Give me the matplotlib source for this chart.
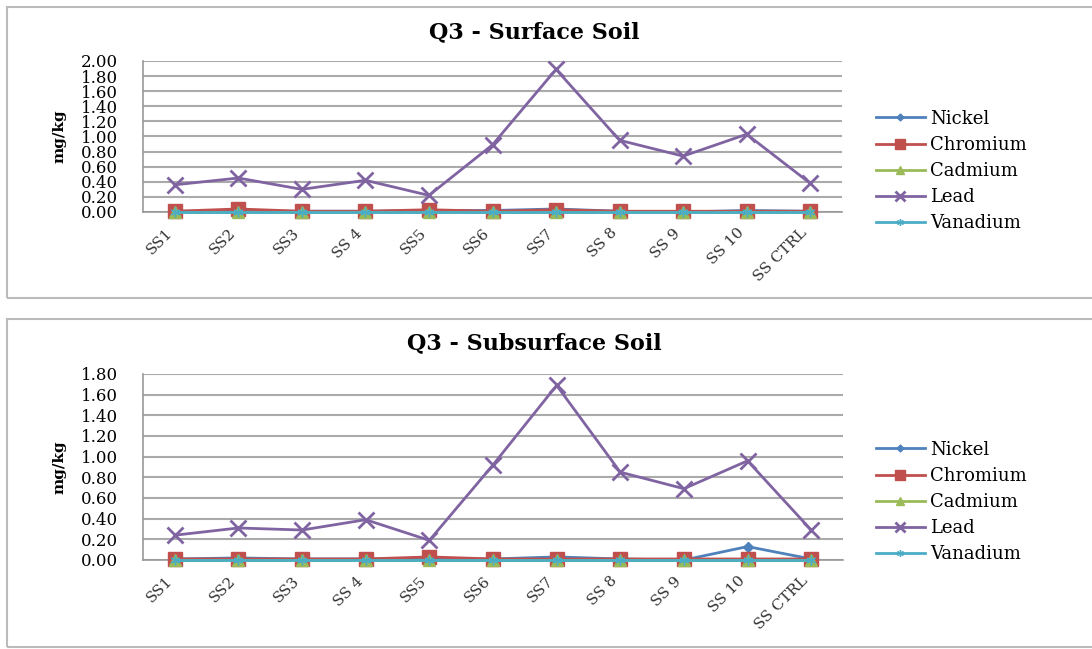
import numpy as np
import matplotlib.pyplot as plt
from matplotlib.patches import Rectangle

plt.rcParams['font.family'] = ['DejaVu Serif', 'Liberation Serif']

sites = ['SS1', 'SS2', 'SS3', 'SS 4', 'SS5', 'SS6', 'SS7', 'SS 8', 'SS 9', 'SS 10', 'SS CTRL']
metals = ['Nickel', 'Chromium', 'Cadmium', 'Lead', 'Vanadium']

# surface soil, mg/kg
surf_nickel = [0.01, 0.01, 0.01, 0.01, 0.02, 0.02, 0.04, 0.01, 0.00, 0.02, 0.01]
surf_chromium = [0.01, 0.04, 0.01, 0.01, 0.03, 0.01, 0.03, 0.01, 0.01, 0.01, 0.01]
surf_cadmium = [0.00, 0.00, 0.00, 0.00, 0.00, 0.00, 0.00, 0.00, 0.00, 0.00, 0.00]
surf_lead = [0.36, 0.45, 0.30, 0.42, 0.22, 0.89, 1.89, 0.95, 0.74, 1.03, 0.38]
surf_vanadium = [0.00, 0.00, 0.00, 0.00, 0.00, 0.00, 0.00, 0.00, 0.00, 0.00, 0.00]

# subsurface soil, mg/kg
sub_nickel = [0.01, 0.02, 0.01, 0.01, 0.01, 0.01, 0.03, 0.01, 0.00, 0.13, 0.01]
sub_chromium = [0.01, 0.01, 0.01, 0.01, 0.03, 0.01, 0.01, 0.01, 0.01, 0.01, 0.01]
sub_cadmium = [0.00, 0.00, 0.00, 0.00, 0.00, 0.00, 0.00, 0.00, 0.00, 0.00, 0.00]
sub_lead = [0.24, 0.31, 0.29, 0.39, 0.19, 0.92, 1.69, 0.85, 0.69, 0.96, 0.29]
sub_vanadium = [0.00, 0.00, 0.00, 0.00, 0.00, 0.00, 0.00, 0.00, 0.00, 0.00, 0.00]

colors = ['#4F81BD', '#C0504D', '#9BBB59', '#8064A2', '#4BACC6']
markers = ['D', 's', '^', 'x', (6, 2, 0)]
msizes = [5, 10, 8, 11, 7]

W, H = 1092, 649


def px_box(left, top, right, bottom):
    return [left / W, 1 - bottom / H, (right - left) / W, (bottom - top) / H]


def draw_panel(fig, box, series, ymax, title, title_y, legend_y):
    l, t, r, b = box
    ax = fig.add_axes(px_box(l, t, r, b))
    x = np.arange(len(sites))
    for vals, name, c, m, ms in zip(series, metals, colors, markers, msizes):
        ax.plot(x, vals, color=c, lw=2, marker=m, ms=ms, mew=2 if m == 'x' else 1,
                label=name, clip_on=False, zorder=3)
    ax.set_xlim(-0.5, len(sites) - 0.5)
    ax.set_ylim(0, ymax)
    yt = np.arange(0, ymax + 0.001, 0.2)
    ax.set_yticks(yt)
    ax.set_yticklabels([f'{v:.2f}' for v in yt], fontsize=12)
    ax.set_xticks(x)
    ax.set_xticklabels(sites, rotation=45, ha='right', va='top', fontsize=11,
                       color='#333333')
    ax.tick_params(axis='y', length=0, pad=18)
    ax.tick_params(axis='x', length=4, color='#999999', pad=6)
    ax.yaxis.grid(True, color='#AAAAAA', lw=1.5)
    ax.set_axisbelow(True)
    for s in ['top', 'right']:
        ax.spines[s].set_visible(False)
    for s in ['left', 'bottom']:
        ax.spines[s].set_color('#999999')
        ax.spines[s].set_linewidth(1.2)
    ax.set_ylabel('mg/kg', fontsize=11, fontweight='bold', labelpad=10)
    fig.text(534 / W, 1 - title_y / H, title, ha='center', va='center',
             fontsize=16, fontweight='bold')
    fig.legend(*ax.get_legend_handles_labels(), loc='center left',
               bbox_to_anchor=(876 / W, 1 - legend_y / H), frameon=False,
               fontsize=13, handlelength=2.7, handletextpad=0.3, markerscale=0.7,
               labelspacing=0.45, borderpad=0, borderaxespad=0)
    return ax


fig = plt.figure(figsize=(W / 100, H / 100), dpi=100)

# chart-area outlines
fig.patches.append(Rectangle((7 / W, 1 - 298 / H), 1.1, 291 / H, transform=fig.transFigure,
                             fill=False, ec='#BBBBBB', lw=1.5))
fig.patches.append(Rectangle((7 / W, 1 - 647 / H), 1.1, 328 / H, transform=fig.transFigure,
                             fill=False, ec='#BBBBBB', lw=1.5))

draw_panel(fig, (143, 61, 842, 212),
           [surf_nickel, surf_chromium, surf_cadmium, surf_lead, surf_vanadium],
           2.0, 'Q3 - Surface Soil', 32, 171)
draw_panel(fig, (143, 374, 843, 560),
           [sub_nickel, sub_chromium, sub_cadmium, sub_lead, sub_vanadium],
           1.8, 'Q3 - Subsurface Soil', 343, 502)

fig.savefig('out.png', dpi=100)
